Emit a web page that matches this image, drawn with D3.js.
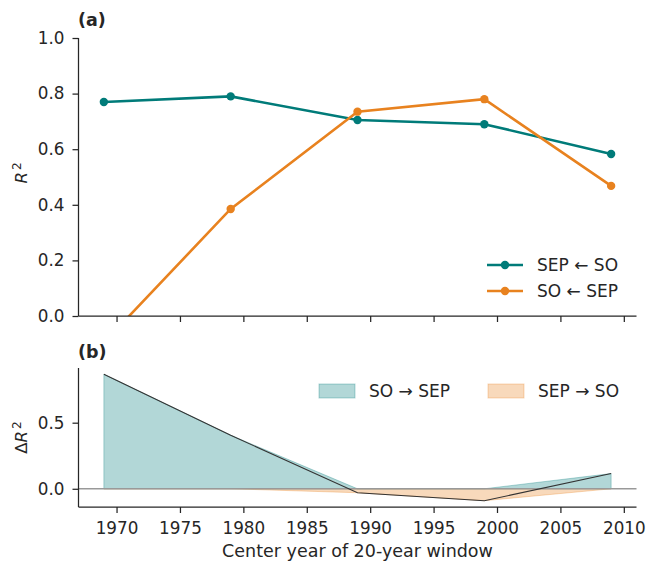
<!DOCTYPE html>
<html>
<head>
<meta charset="utf-8">
<script src="https://cdn.jsdelivr.net/npm/d3@7"></script>
<style>
  body { margin: 0; background: #fff; }
  text { font-family: "DejaVu Sans", sans-serif; fill: #262626; }
  .axis line { stroke: #262626; stroke-width: 1.25; }
  .axis text { font-size: 16.8px; fill: #262626; }
  .spine { stroke: #262626; stroke-width: 1.25; }
</style>
</head>
<body>
<script>
// center year of each 20-year window
var years = [1969, 1979, 1989, 1999, 2009];
// R^2 of each direction
var sepFromSo = [0.77, 0.79, 0.705, 0.69, 0.583];
var soFromSep = [-0.096, 0.385, 0.735, 0.78, 0.468];
var seriesNames = ["SEP \u2190 SO", "SO \u2190 SEP"];
var fillNames = ["SO \u2192 SEP", "SEP \u2192 SO"];
var xTicks = [1970, 1975, 1980, 1985, 1990, 1995, 2000, 2005, 2010];
var yTicksTop = [0, 0.2, 0.4, 0.6, 0.8, 1.0];
var yTicksBottom = [0, 0.5];

var teal = "#007b79", orange = "#e8821f";

var W = 648, H = 563;
var left = 78.5, right = 636.5;
var topA = 38, bottomA = 316;
var topB = 368, bottomB = 507;

var svg = d3.select("body").append("svg")
    .attr("width", W)
    .attr("height", H);

// x scale with matplotlib style margins (5% each side)
var x0 = d3.min(years), x1 = d3.max(years), xm = (x1 - x0) * 0.05;
var x = d3.scaleLinear().domain([x0 - xm, x1 + xm]).range([left, right]);

// draw left + bottom spines only
function spines(top, bottom) {
  svg.append("line").attr("class", "spine")
      .attr("x1", left).attr("x2", left).attr("y1", top).attr("y2", bottom);
  svg.append("line").attr("class", "spine")
      .attr("x1", left).attr("x2", right).attr("y1", bottom).attr("y2", bottom);
}

// ---------------- panel (a) ----------------
var yA = d3.scaleLinear().domain([0, 1]).range([bottomA, topA]);

svg.append("clipPath").attr("id", "clipA")
  .append("rect")
    .attr("x", left).attr("y", topA)
    .attr("width", right - left).attr("height", bottomA - topA);

var lineA = d3.line()
    .x(function(d, i) { return x(years[i]); })
    .y(function(d) { return yA(d); });

var gA = svg.append("g").attr("clip-path", "url(#clipA)");
[[sepFromSo, teal], [soFromSep, orange]].forEach(function(s) {
  gA.append("path")
      .attr("d", lineA(s[0]))
      .attr("fill", "none")
      .attr("stroke", s[1])
      .attr("stroke-width", 2.6);
  gA.selectAll(null)
      .data(s[0])
      .enter().append("circle")
      .attr("cx", function(d, i) { return x(years[i]); })
      .attr("cy", function(d) { return yA(d); })
      .attr("r", 4.2)
      .attr("fill", s[1]);
});

svg.append("g")
    .attr("class", "axis")
    .attr("transform", "translate(0," + bottomA + ")")
    .call(d3.axisBottom(x).tickValues(xTicks).tickSize(6).tickFormat(""))
    .call(function(g) { g.select(".domain").remove(); });

svg.append("g")
    .attr("class", "axis")
    .attr("transform", "translate(" + left + ",0)")
    .call(d3.axisLeft(yA).tickValues(yTicksTop).tickSize(6).tickPadding(8).tickFormat(d3.format(".1f")))
    .call(function(g) { g.select(".domain").remove(); });

spines(topA, bottomA);

// legend (a)
var legA = svg.append("g");
[[seriesNames[0], teal, 265], [seriesNames[1], orange, 291]].forEach(function(l) {
  legA.append("line")
      .attr("x1", 487).attr("x2", 523)
      .attr("y1", l[2]).attr("y2", l[2])
      .attr("stroke", l[1]).attr("stroke-width", 2.6);
  legA.append("circle")
      .attr("cx", 505).attr("cy", l[2]).attr("r", 4.2)
      .attr("fill", l[1]);
  legA.append("text")
      .attr("x", 537).attr("y", l[2])
      .attr("dy", "0.36em")
      .style("font-size", "17px")
      .text(l[0]);
});

svg.append("text")
    .attr("x", 78).attr("y", 26)
    .style("font-size", "17.5px").style("font-weight", "bold")
    .text("(a)");

var labA = svg.append("text")
    .attr("transform", "translate(27," + ((topA + bottomA) / 2 - 4) + ") rotate(-90)")
    .attr("text-anchor", "middle")
    .style("font-size", "16.5px");
labA.append("tspan").style("font-style", "italic").text("R");
labA.append("tspan").attr("dx", "2").attr("dy", "-0.5em").style("font-size", "12px").text("2");

// ---------------- panel (b) ----------------
var delta = sepFromSo.map(function(d, i) { return d - soFromSep[i]; });
var pos = delta.map(function(d) { return Math.max(d, 0); });
var neg = delta.map(function(d) { return Math.min(d, 0); });

var dMin = d3.min(delta), dMax = d3.max(delta), dm = (dMax - dMin) * 0.05;
var yB = d3.scaleLinear().domain([dMin - dm, dMax + dm]).range([bottomB, topB]);

var area = d3.area()
    .x(function(d, i) { return x(years[i]); })
    .y0(yB(0))
    .y1(function(d) { return yB(d); });

[[pos, teal], [neg, orange]].forEach(function(s) {
  svg.append("path")
      .attr("d", area(s[0]))
      .attr("fill", s[1]).attr("fill-opacity", 0.3)
      .attr("stroke", s[1]).attr("stroke-opacity", 0.3).attr("stroke-width", 1);
});

svg.append("line")
    .attr("x1", left).attr("x2", right)
    .attr("y1", yB(0)).attr("y2", yB(0))
    .attr("stroke", "#999").attr("stroke-width", 1.6);

svg.append("path")
    .attr("d", d3.line()
      .x(function(d, i) { return x(years[i]); })
      .y(function(d) { return yB(d); })(delta))
    .attr("fill", "none")
    .attr("stroke", "#333")
    .attr("stroke-width", 1.1);

svg.append("g")
    .attr("class", "axis")
    .attr("transform", "translate(0," + bottomB + ")")
    .call(d3.axisBottom(x).tickValues(xTicks).tickSize(6).tickPadding(9).tickFormat(d3.format("d")))
    .call(function(g) { g.select(".domain").remove(); });

svg.append("g")
    .attr("class", "axis")
    .attr("transform", "translate(" + left + ",0)")
    .call(d3.axisLeft(yB).tickValues(yTicksBottom).tickSize(6).tickPadding(8).tickFormat(d3.format(".1f")))
    .call(function(g) { g.select(".domain").remove(); });

spines(topB, bottomB);

// legend (b)
var legB = svg.append("g");
[[fillNames[0], teal, 319], [fillNames[1], orange, 488]].forEach(function(l) {
  legB.append("rect")
      .attr("x", l[2]).attr("y", 384)
      .attr("width", 36).attr("height", 14)
      .attr("fill", l[1]).attr("fill-opacity", 0.3)
      .attr("stroke", l[1]).attr("stroke-opacity", 0.3);
  legB.append("text")
      .attr("x", l[2] + 50).attr("y", 391)
      .attr("dy", "0.36em")
      .style("font-size", "17px")
      .text(l[0]);
});

svg.append("text")
    .attr("x", 78).attr("y", 358)
    .style("font-size", "17.5px").style("font-weight", "bold")
    .text("(b)");

var labB = svg.append("text")
    .attr("transform", "translate(27," + ((topB + bottomB) / 2) + ") rotate(-90)")
    .attr("text-anchor", "middle")
    .style("font-size", "16.5px");
labB.append("tspan").text("\u0394");
labB.append("tspan").style("font-style", "italic").text("R");
labB.append("tspan").attr("dx", "2").attr("dy", "-0.5em").style("font-size", "12px").text("2");

svg.append("text")
    .attr("x", (left + right) / 2).attr("y", 557)
    .attr("text-anchor", "middle")
    .style("font-size", "17.5px")
    .text("Center year of 20-year window");
</script>
</body>
</html>
